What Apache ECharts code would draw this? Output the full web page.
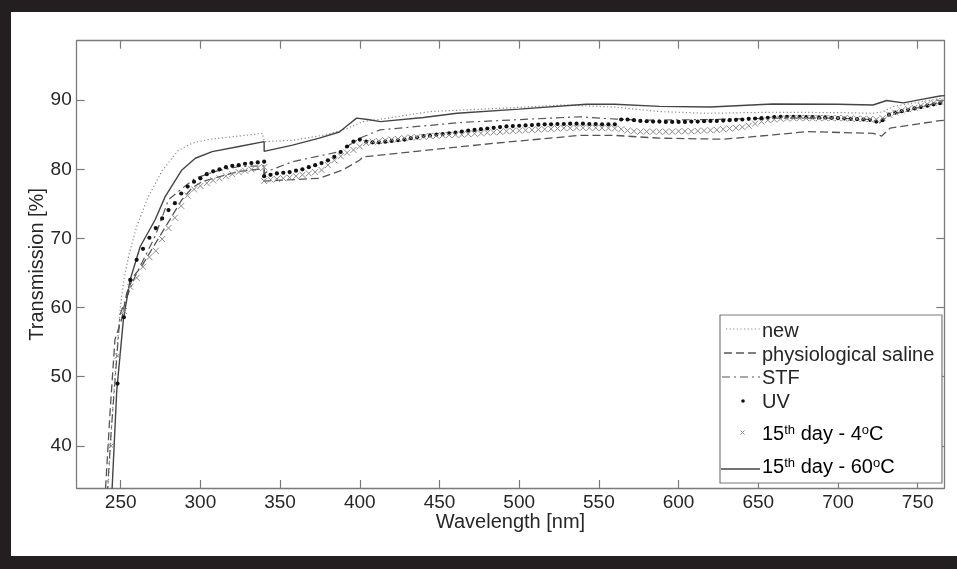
<!DOCTYPE html>
<html>
<head>
<meta charset="utf-8">
<script src="https://cdn.jsdelivr.net/npm/echarts@6/dist/echarts.min.js"></script>
<style>
  html, body { margin: 0; padding: 0; background: #fff; }
  #chart { width: 957px; height: 569px; }
</style>
</head>
<body>
<div id="chart"></div>
<script>
// Wavelength grid of the marker series (nm); 340 appears twice at the lamp changeover.
const wavelengths = [
  240,244,248,252,256,260,264,268,272,276,
  280,284,288,292,296,300,304,308,312,316,
  320,324,328,332,336,340,340,344,348,352,
  356,360,364,368,372,376,380,384,388,392,
  396,400,404,408,412,416,420,424,428,432,
  436,440,444,448,452,456,460,464,468,472,
  476,480,484,488,492,496,500,504,508,512,
  516,520,524,528,532,536,540,544,548,552,
  556,560,564,568,572,576,580,584,588,592,
  596,600,604,608,612,616,620,624,628,632,
  636,640,644,648,652,656,660,664,668,672,
  676,680,684,688,692,696,700,704,708,712,
  716,720,724,728,732,736,740,744,748,752,
  756,760,764
];

// UV-treated sample, transmission (%)
const uvValues = [
  15,31,49,58.6,64.0,66.9,68.5,70.1,71.5,72.9,
  74.1,75.1,76.5,77.5,78.2,78.7,79.3,79.7,80.0,80.3,
  80.5,80.6,80.8,80.9,81.0,81.1,79.0,79.2,79.4,79.5,
  79.6,79.8,80.0,80.3,80.6,80.9,81.3,81.8,82.5,83.3,
  84.0,84.3,84.0,83.9,83.9,84.0,84.1,84.2,84.3,84.5,
  84.6,84.8,84.9,85.0,85.1,85.2,85.3,85.45,85.6,85.7,
  85.8,85.9,86.0,86.1,86.2,86.25,86.3,86.35,86.4,86.45,
  86.5,86.5,86.55,86.55,86.6,86.6,86.6,86.55,86.55,86.5,
  86.5,86.5,87.2,87.2,87.1,87.0,86.95,86.9,86.9,86.85,
  86.85,86.85,86.85,86.9,86.9,86.95,87.0,87.0,87.05,87.1,
  87.15,87.2,87.3,87.35,87.4,87.45,87.55,87.6,87.6,87.6,
  87.6,87.55,87.55,87.5,87.5,87.45,87.4,87.35,87.3,87.25,
  87.2,87.15,86.9,87.1,87.9,88.2,88.4,88.6,88.8,89.0,
  89.2,89.4,89.55
];

// 15th day stored at 4 °C, transmission (%)
const day15Cold = [
  20,40,53,59.5,63.0,64.3,65.9,67.3,68.2,69.9,
  71.5,73.0,74.7,76.2,77.1,77.6,78.0,78.4,78.7,79.0,
  79.3,79.6,79.8,80.0,80.2,80.3,78.3,78.5,78.6,78.7,
  78.8,79.0,79.2,79.4,79.6,79.9,80.6,81.3,81.9,82.4,
  82.8,83.3,83.8,84.0,84.1,84.2,84.3,84.4,84.5,84.6,
  84.65,84.7,84.8,84.85,84.9,84.95,85.0,85.0,85.1,85.15,
  85.2,85.3,85.35,85.4,85.5,85.55,85.6,85.65,85.7,85.75,
  85.8,85.85,85.9,85.95,85.95,86.0,86.0,86.0,86.0,85.95,
  85.95,85.9,85.8,85.6,85.5,85.45,85.45,85.45,85.45,85.45,
  85.45,85.5,85.5,85.5,85.55,85.6,85.65,85.7,85.8,85.9,
  86.0,86.1,86.3,86.6,86.9,87.1,87.2,87.3,87.35,87.4,
  87.4,87.4,87.4,87.4,87.4,87.4,87.4,87.4,87.35,87.3,
  87.3,87.25,87.2,87.4,87.9,88.2,88.5,88.7,88.9,89.2,
  89.4,89.6,89.8
];

// New lens
const newX = [238,241.8,245.4,248.5,250,252,255,260,267,276,286,295,305,316,339,340,358,379,392,402,412,444,486,528,560,588,618,659,700,722,728,735,750,766];
const newY = [20,33,47,56.5,60.5,64,67.5,71.7,75.9,79.8,82.7,83.8,84.3,84.6,85.2,84.0,84.2,85.0,85.9,86.9,87.2,88.35,88.8,89.3,89.0,88.35,88.1,88.25,88.2,88.1,88.3,89.1,89.7,90.3];

// Physiological saline
const salineX = [238,240.1,243.3,246.4,250.6,253.8,258,263.2,269.5,275.8,282.1,288.4,294.7,301,311.6,324.2,340,340,357.8,374.6,389.3,399.8,402.2,444,486,538,560,588,628,659.4,680.4,722,727.4,732.7,764,767];
const salineY = [20,32.3,44.8,55.4,58.3,62.1,64.5,66,68.4,70.8,73.2,75.6,77.3,78.2,78.9,79.7,80.1,78.3,78.5,78.7,79.9,81.3,81.8,82.8,83.8,84.9,84.9,84.5,84.35,84.98,85.45,85.2,84.8,85.95,87.05,87.1];

// Simulated tear fluid
const stfX = [238,244,249.6,259,271.6,280,290.5,296.8,309.5,324.2,340,340,342,357.8,387.2,400,412.7,465,538,561,580,620,660,700,720,726,732,750,766];
const stfY = [20,42,59,64.5,70.3,75.6,77.6,78.7,79.7,80.4,80.5,79.3,79.7,81.1,82.55,84.5,85.7,86.8,87.6,87.25,87.1,87.2,87.4,87.4,87.2,86.7,87.8,88.9,89.8];

// 15th day stored at 60 °C
const day15HotX = [238,244.3,247.5,251.7,255.9,262.2,271.6,277.9,288.4,296.8,307.4,324.2,340,340,357.8,374.6,387.2,392,398,405,413,440,461,500,542,560,588,620,659,700,722,730.5,741,750,764,767];
const day15HotY = [20,32.3,47.9,58.3,64.0,68.8,72.7,76.05,79.9,81.6,82.55,83.3,84.0,82.6,83.5,84.5,85.4,86.3,87.4,87.2,86.9,87.5,88.1,88.7,89.4,89.4,89.1,89.0,89.45,89.4,89.3,89.95,89.6,90.0,90.6,90.65];

const xTicks = [250,300,350,400,450,500,550,600,650,700,750];
const yTicks = [40,50,60,70,80,90];

const pairs = (xs, ys) => xs.map((x, i) => [x, ys[i]]);

const FONT = 'Liberation Sans';
const AXIS_GRAY = '#7a7a7a';
const TEXT = '#262626';
const X_MIN = 222.4, X_MAX = 766.7, Y_MIN = 33.9, Y_MAX = 98.6;

const crossPath = 'path://M0,0L10,10M10,0L0,10';

function axisCommon(showLabels, ticks) {
  return {
    axisLine: { show: true, lineStyle: { color: AXIS_GRAY, width: 1.3 } },
    axisTick: { show: true, inside: true, length: 8, customValues: ticks,
                lineStyle: { color: AXIS_GRAY, width: 1.2 } },
    axisLabel: { show: showLabels, customValues: ticks, color: TEXT,
                 fontFamily: FONT, fontSize: 19, margin: 5 },
    splitLine: { show: false }
  };
}

const chart = echarts.init(document.getElementById('chart'), null, { renderer: 'canvas' });

// Legend rows
const supRich = {
  a: { fontFamily: FONT, fontSize: 20, color: TEXT, lineHeight: 21, padding: [5, 0, 0, 0], verticalAlign: 'bottom' },
  s: { fontFamily: FONT, fontSize: 13, color: TEXT, lineHeight: 14, verticalAlign: 'top' }
};
const LEG_L = 720, LEG_T = 315, LEG_W = 222, LEG_H = 168;
const LEG_FONT = '20px ' + FONT;
const legendGraphics = [
  { type: 'rect', shape: { x: LEG_L, y: LEG_T, width: LEG_W, height: LEG_H },
    style: { fill: '#fff', stroke: AXIS_GRAY, lineWidth: 1.2 }, z: 100 },
  { type: 'line', shape: { x1: 726, y1: 329, x2: 760, y2: 329 },
    style: { stroke: '#8a8a8a', lineWidth: 1.2, lineDash: [1.2, 2.4] }, z: 101 },
  { type: 'line', shape: { x1: 724, y1: 353, x2: 760, y2: 353 },
    style: { stroke: '#555', lineWidth: 1.3, lineDash: [8, 4] }, z: 101 },
  { type: 'line', shape: { x1: 722, y1: 377, x2: 760, y2: 377 },
    style: { stroke: '#555', lineWidth: 1.2, lineDash: [8, 4, 2, 4] }, z: 101 },
  { type: 'circle', shape: { cx: 743, cy: 401, r: 1.8 }, style: { fill: '#111' }, z: 101 },
  { type: 'line', shape: { x1: 740.5, y1: 430.5, x2: 744.5, y2: 434.5 },
    style: { stroke: '#888', lineWidth: 1 }, z: 101 },
  { type: 'line', shape: { x1: 744.5, y1: 430.5, x2: 740.5, y2: 434.5 },
    style: { stroke: '#888', lineWidth: 1 }, z: 101 },
  { type: 'line', shape: { x1: 721, y1: 469, x2: 760, y2: 469 },
    style: { stroke: '#444', lineWidth: 1.4 }, z: 101 },
  { type: 'text', x: 762, y: 331, z: 101,
    style: { text: 'new', font: LEG_FONT, fill: TEXT, verticalAlign: 'middle' } },
  { type: 'text', x: 762, y: 355, z: 101,
    style: { text: 'physiological saline', font: LEG_FONT, fill: TEXT, verticalAlign: 'middle' } },
  { type: 'text', x: 762, y: 378, z: 101,
    style: { text: 'STF', font: LEG_FONT, fill: TEXT, verticalAlign: 'middle' } },
  { type: 'text', x: 762, y: 402, z: 101,
    style: { text: 'UV', font: LEG_FONT, fill: TEXT, verticalAlign: 'middle' } },
  { type: 'text', x: 762, y: 434, z: 101,
    style: { text: '{a|15}{s|th}{a| day - 4}{s|o}{a|C}', rich: supRich, verticalAlign: 'middle' } },
  { type: 'text', x: 762, y: 467, z: 101,
    style: { text: '{a|15}{s|th}{a| day - 60}{s|o}{a|C}', rich: supRich, verticalAlign: 'middle' } }
];

// Dark frame around the figure
const FRAME = '#231f20';
const frameGraphics = [
  { type: 'rect', shape: { x: 0, y: 0, width: 957, height: 12 }, style: { fill: FRAME }, z: 200 },
  { type: 'rect', shape: { x: 0, y: 0, width: 11, height: 569 }, style: { fill: FRAME }, z: 200 },
  { type: 'rect', shape: { x: 0, y: 556, width: 957, height: 13 }, style: { fill: FRAME }, z: 200 }
];

const option = {
  backgroundColor: '#ffffff',
  animation: false,
  grid: { left: 76.7, right: 12.7, top: 40.7, bottom: 81, containLabel: false },
  xAxis: [
    Object.assign({
      type: 'value', min: X_MIN, max: X_MAX, position: 'bottom',
      name: 'Wavelength [nm]', nameLocation: 'middle', nameGap: 24, nameMoveOverlap: false,
      nameTextStyle: { fontFamily: FONT, fontSize: 20, color: TEXT }
    }, axisCommon(true, xTicks)),
    Object.assign({ type: 'value', min: X_MIN, max: X_MAX, position: 'top' }, axisCommon(false, xTicks))
  ],
  yAxis: [
    Object.assign({
      type: 'value', min: Y_MIN, max: Y_MAX, position: 'left',
      name: 'Transmission [%]', nameLocation: 'middle', nameGap: 29, nameMoveOverlap: false,
      nameTextStyle: { fontFamily: FONT, fontSize: 20, color: TEXT }
    }, axisCommon(true, yTicks)),
    Object.assign({ type: 'value', min: Y_MIN, max: Y_MAX, position: 'right' }, axisCommon(false, yTicks))
  ],
  series: [
    { name: 'new', type: 'line', data: pairs(newX, newY), symbol: 'none',
      lineStyle: { color: '#8a8a8a', width: 1.2, type: [1.2, 2.4] }, z: 3 },
    { name: 'physiological saline', type: 'line', data: pairs(salineX, salineY), symbol: 'none',
      lineStyle: { color: '#555', width: 1.3, type: [8, 4] }, z: 3 },
    { name: 'STF', type: 'line', data: pairs(stfX, stfY), symbol: 'none',
      lineStyle: { color: '#555', width: 1.2, type: [8, 4, 2, 4] }, z: 3 },
    { name: 'UV', type: 'line', data: pairs(wavelengths, uvValues),
      symbol: 'circle', symbolSize: 4.2, showAllSymbol: true,
      itemStyle: { color: '#111' }, lineStyle: { width: 0, opacity: 0 }, z: 4 },
    { name: '15th day - 4°C', type: 'line', data: pairs(wavelengths, day15Cold),
      symbol: crossPath, symbolSize: 6, showAllSymbol: true,
      itemStyle: { color: 'rgba(0,0,0,0)', borderColor: '#8a8a8a', borderWidth: 1 },
      lineStyle: { width: 0, opacity: 0 }, z: 4 },
    { name: '15th day - 60°C', type: 'line', data: pairs(day15HotX, day15HotY), symbol: 'none',
      lineStyle: { color: '#444', width: 1.4 }, z: 3 }
  ],
  graphic: legendGraphics.concat(frameGraphics)
};

chart.setOption(option);
</script>
</body>
</html>
